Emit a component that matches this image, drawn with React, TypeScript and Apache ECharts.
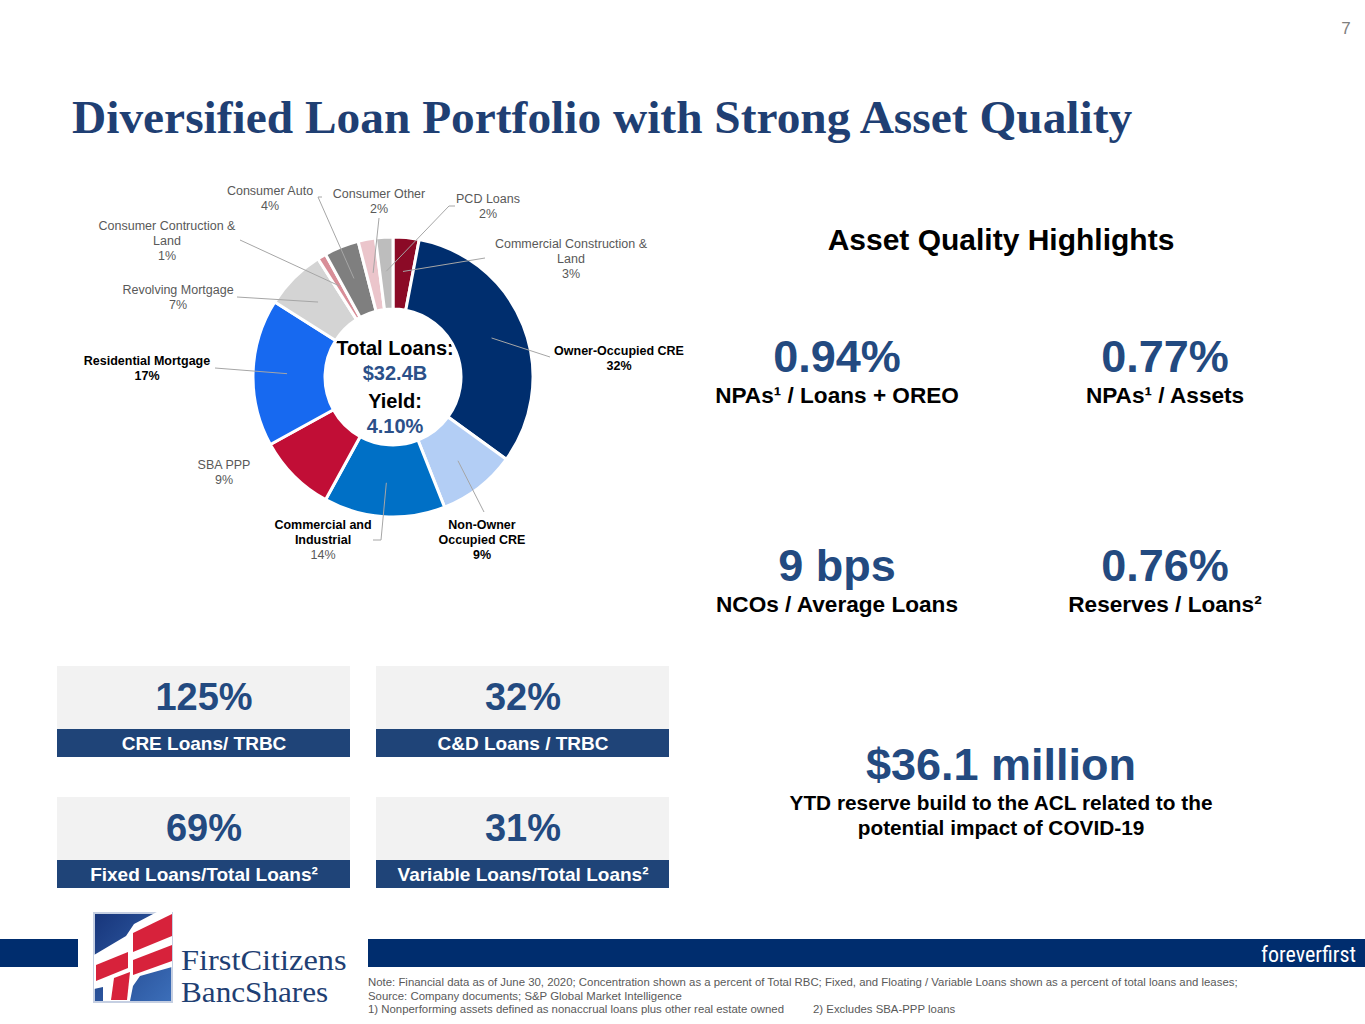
import React, { useEffect, useRef } from "react";
import * as echarts from "echarts";

// ---- Data ----
const categories = [
  "Commercial Construction &\nLand",
  "Owner-Occupied CRE",
  "Non-Owner\nOccupied CRE",
  "Commercial and\nIndustrial",
  "SBA PPP",
  "Residential Mortgage",
  "Revolving Mortgage",
  "Consumer Contruction &\nLand",
  "Consumer Auto",
  "Consumer Other",
  "PCD Loans",
];
const shares = [3, 32, 9, 14, 9, 17, 7, 1, 4, 2, 2];
const sliceColors = [
  "#8B0A26", "#002E6E", "#B3CEF5", "#0070C6", "#C10E36", "#1769F0",
  "#D4D4D4", "#D88E98", "#7F7F7F", "#EBC5CB", "#BDBDBD",
];
// label styles: name bold?, pct bold?
const nameBold = [false, true, true, true, false, true, false, false, false, false, false];
const pctBold = [false, true, true, false, false, true, false, false, false, false, false];

const centerLines = ["Total Loans:", "$32.4B", "Yield:", "4.10%"];

const highlightValues = ["0.94%", "0.77%", "9 bps", "0.76%"];
const highlightLabels = ["NPAs¹ / Loans + OREO", "NPAs¹ / Assets", "NCOs / Average Loans", "Reserves / Loans²"];

const boxValues = ["125%", "32%", "69%", "31%"];
const boxLabels = ["CRE Loans/ TRBC", "C&D Loans / TRBC", "Fixed Loans/Total Loans²", "Variable Loans/Total Loans²"];

const reserveValue = "$36.1 million";
const reserveText = ["YTD reserve build to the ACL related to the", "potential impact of COVID-19"];

const notes = [
  "Note: Financial data as of June 30, 2020; Concentration shown as a percent of Total RBC; Fixed, and Floating / Variable Loans shown as a percent of total loans and leases;",
  "Source: Company documents; S&P Global Market Intelligence",
  "1) Nonperforming assets defined as nonaccrual loans plus other real estate owned",
  "2) Excludes SBA-PPP loans",
];

// ---- Layout (positions only) ----
const CX = 393;
const CY = 377;
const R0 = 68;
const R1 = 140;
const LINE_R = 106;
const labelLayoutPos: { x: number; y: number; line: number[][] | null }[] = [
  { x: 571, y: 259, line: [[485, 258]] },
  { x: 619, y: 358.5, line: [[550, 357]] },
  { x: 482, y: 540, line: [[484, 512]] },
  { x: 323, y: 540, line: [[381, 540], [373, 540]] },
  { x: 224, y: 472.5, line: null },
  { x: 147, y: 368.5, line: [[215, 368]] },
  { x: 178, y: 297.5, line: [[237, 297]] },
  { x: 167, y: 241, line: [[240, 240]] },
  { x: 270, y: 198.5, line: [[318, 197], [322, 197]] },
  { x: 379, y: 201.5, line: [[379, 218]] },
  { x: 488, y: 206.5, line: [[449, 206], [455, 206]] },
];

const SANS = '"Liberation Sans", Arial, sans-serif';
const SERIF = '"Liberation Serif", "Times New Roman", serif';
const NAVY = "#1F3F73";
const VAL_BLUE = "#234A80";
const BAR_BLUE = "#1F4478";

function innerPoint(i: number): number[] {
  const total = shares.reduce((a, b) => a + b, 0);
  let cum = 0;
  for (let k = 0; k < i; k++) cum += shares[k];
  const f = (cum + shares[i] / 2) / total;
  const th = f * Math.PI * 2;
  return [CX + LINE_R * Math.sin(th), CY - LINE_R * Math.cos(th)];
}

function txt(text: string, x: number, y: number, size: number, opts: any = {}) {
  return {
    type: "text",
    x,
    y,
    scaleX: opts.scaleX || 1,
    silent: true,
    style: {
      text,
      fontSize: size,
      fontWeight: opts.weight || "normal",
      fontFamily: opts.family || SANS,
      fill: opts.fill || "#000",
      align: opts.align || "center",
      verticalAlign: opts.valign || "middle",
    },
  };
}

export default function App() {
  const ref = useRef<HTMLDivElement>(null);
  useEffect(() => {
    if (!ref.current) return;
    const chart = echarts.init(ref.current, undefined, { renderer: "svg" });

    const data = categories.map((name, i) => {
      const nTag = nameBold[i] ? "b" : "n";
      const pTag = pctBold[i] ? "b" : "n";
      return {
        name,
        value: shares[i],
        itemStyle: { color: sliceColors[i] },
        label: { formatter: `{${nTag}|${name}}\n{${pTag}|${shares[i]}%}` },
      };
    });

    const graphics: any[] = [];
    // Title & page number
    graphics.push(txt("Diversified Loan Portfolio with Strong Asset Quality", 72, 117, 47.4, { weight: "bold", family: SERIF, fill: NAVY, align: "left" }));
    graphics.push(txt("7", 1346, 28, 17, { fill: "#7F7F7F" }));
    // Donut label leader lines (start inside each slice, at its mid-angle)
    labelLayoutPos.forEach((L, i) => {
      if (!L.line) return;
      graphics.push({
        type: "polyline",
        z: 50,
        silent: true,
        shape: { points: [innerPoint(i), ...L.line] },
        style: { stroke: "#A6A6A6", lineWidth: 1, fill: null },
      });
    });
    // Donut center
    graphics.push(txt(centerLines[0], 395, 348, 20, { weight: "bold" }));
    graphics.push(txt(centerLines[1], 395, 373, 20, { weight: "bold", fill: "#2B5089" }));
    graphics.push(txt(centerLines[2], 395, 401, 20, { weight: "bold" }));
    graphics.push(txt(centerLines[3], 395, 426, 20, { weight: "bold", fill: "#2B5089" }));
    // Asset quality
    graphics.push(txt("Asset Quality Highlights", 1001, 239, 30, { weight: "bold" }));
    const hx = [837, 1165, 837, 1165];
    const hy = [356, 356, 565, 565];
    const ly = [395, 395, 604, 604];
    highlightValues.forEach((v, i) => {
      graphics.push(txt(v, hx[i], hy[i], 45, { weight: "bold", fill: VAL_BLUE }));
      graphics.push(txt(highlightLabels[i], hx[i], ly[i], 22.6, { weight: "bold" }));
    });
    graphics.push(txt(reserveValue, 1001, 764, 45, { weight: "bold", fill: VAL_BLUE }));
    graphics.push(txt(reserveText[0], 1001, 802, 20.8, { weight: "bold" }));
    graphics.push(txt(reserveText[1], 1001, 827, 20.8, { weight: "bold" }));
    // Boxes
    const bx = [57, 376, 57, 376];
    const by = [666, 666, 797, 797];
    boxValues.forEach((v, i) => {
      graphics.push({ type: "rect", shape: { x: bx[i], y: by[i], width: 293, height: 63 }, style: { fill: "#F2F2F2" }, silent: true });
      graphics.push({ type: "rect", shape: { x: bx[i], y: by[i] + 63, width: 293, height: 28 }, style: { fill: BAR_BLUE }, silent: true });
      graphics.push(txt(v, bx[i] + 147, by[i] + 31, 38, { weight: "bold", fill: VAL_BLUE }));
      graphics.push(txt(boxLabels[i], bx[i] + 147, by[i] + 77, 19, { weight: "bold", fill: "#fff" }));
    });
    // Footer bars
    graphics.push({ type: "rect", shape: { x: 0, y: 939, width: 78, height: 28 }, style: { fill: "#002D6E" }, silent: true });
    graphics.push({ type: "rect", shape: { x: 368, y: 939, width: 997, height: 28 }, style: { fill: "#002D6E" }, silent: true });
    graphics.push(txt("foreverfirst", 1356, 954, 22, { fill: "#fff", align: "right", family: '"Liberation Sans Narrow", "Roboto Condensed", "DejaVu Sans Condensed", sans-serif' }));
    // Notes
    graphics.push(txt(notes[0], 368, 982, 11.4, { fill: "#595959", align: "left" }));
    graphics.push(txt(notes[1], 368, 996, 11.4, { fill: "#595959", align: "left" }));
    graphics.push(txt(notes[2], 368, 1009, 11.4, { fill: "#595959", align: "left" }));
    graphics.push(txt(notes[3], 813, 1009, 11.4, { fill: "#595959", align: "left" }));
    // Logo
    graphics.push({
      type: "rect",
      shape: { x: 94, y: 913, width: 78, height: 89 },
      style: {
        fill: new echarts.graphic.LinearGradient(0, 0, 1, 1, [
          { offset: 0, color: "#17357A" },
          { offset: 1, color: "#3C6FBA" },
        ]),
        stroke: "#C5CFE2",
        lineWidth: 2,
      },
      silent: true,
    });
    const wave: number[][] = [[94, 955], [126, 936], [134, 924], [172, 904], [172, 967], [140, 976], [133, 986], [130, 1001], [103, 1001], [103, 987], [94, 989]];
    graphics.push({ type: "polygon", shape: { points: wave }, style: { fill: "#FFFFFF" }, silent: true });
    graphics.push({ type: "polygon", shape: { points: [[133, 933], [172, 914], [172, 936], [133, 952]] }, style: { fill: "#D7223B" }, silent: true });
    graphics.push({ type: "polygon", shape: { points: [[133, 960], [172, 945], [172, 961], [133, 975]] }, style: { fill: "#D7223B" }, silent: true });
    graphics.push({ type: "polygon", shape: { points: [[96, 965], [128, 952], [128, 968], [96, 981]] }, style: { fill: "#D7223B" }, silent: true });
    graphics.push({ type: "polygon", shape: { points: [[111, 1000], [127, 1000], [130, 972], [114, 978]] }, style: { fill: "#D7223B" }, silent: true });
    graphics.push(txt("FirstCitizens", 181, 960, 30, { family: SERIF, fill: NAVY, align: "left", scaleX: 1.08 }));
    graphics.push(txt("BancShares", 181, 992, 30, { family: SERIF, fill: NAVY, align: "left", scaleX: 1.04 }));

    chart.setOption({
      animation: false,
      backgroundColor: "#fff",
      graphic: graphics,
      series: [
        {
          type: "pie",
          center: [CX, CY],
          radius: [R0, R1],
          startAngle: 90,
          clockwise: true,
          avoidLabelOverlap: false,
          itemStyle: { borderColor: "#fff", borderWidth: 3 },
          label: {
            show: true,
            position: "outside",
            align: "center",
            rich: {
              b: { fontSize: 12.5, fontWeight: "bold", color: "#000", lineHeight: 15, fontFamily: SANS, align: "center" },
              n: { fontSize: 12.5, color: "#595959", lineHeight: 15, fontFamily: SANS, align: "center" },
            },
          },
          labelLine: { show: false },
          labelLayout: (params: any) => {
            const L = labelLayoutPos[params.dataIndex];
            return { x: L.x, y: L.y, align: "center", verticalAlign: "middle" };
          },
          emphasis: { disabled: true },
          data,
        },
      ],
    });
    return () => chart.dispose();
  }, []);

  return <div ref={ref} style={{ position: "fixed", left: 0, top: 0, width: 1365, height: 1024, background: "#fff" }} />;
}
